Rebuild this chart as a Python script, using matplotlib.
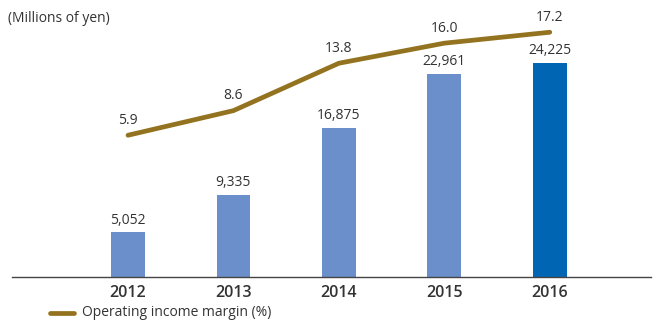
import numpy as np
import matplotlib.pyplot as plt

plt.rcParams['font.family'] = ['Open Sans', 'DejaVu Sans']

years = ['2012', '2013', '2014', '2015', '2016']
income = [5052, 9335, 16875, 22961, 24225]
margin = [5.9, 8.6, 13.8, 16.0, 17.2]

bar_colors = ['#6a8fcb'] * 4 + ['#0066b3']
line_color = '#93731f'
text_color = '#333333'

fig = plt.figure(figsize=(6.53, 3.21), dpi=100)
ax = fig.add_axes([12/653, 44/321, 639/653, 267/321])
x = np.arange(len(years))

ax.bar(x, income, width=0.32, color=bar_colors, zorder=2)
for xi, v in zip(x, income):
    ax.annotate(f'{v:,}', (xi, v), xytext=(0, 3.5), textcoords='offset points',
                ha='center', va='bottom', fontsize=10, color=text_color)

ax.set_xlim(-1.1, 4.96)
ax.set_ylim(0, 30237)
ax.set_xticks(x)
ax.set_xticklabels(years, fontsize=11.5, fontweight='semibold', color=text_color)
ax.tick_params(axis='x', length=0, pad=6)
ax.set_yticks([])
for s in ['top', 'right', 'left']:
    ax.spines[s].set_visible(False)
ax.spines['bottom'].set_color('#444444')
ax.spines['bottom'].set_linewidth(1.0)

ax2 = ax.twinx()
ax2.plot(x, margin, color=line_color, lw=3.4, solid_capstyle='round', zorder=3)
for xi, v in zip(x, margin):
    ax2.annotate(f'{v:.1f}', (xi, v), xytext=(0, 5.5), textcoords='offset points',
                 ha='center', va='bottom', fontsize=10, color=text_color)
ax2.set_ylim(-9.65, 19.64)
ax2.set_yticks([])
ax2.axis('off')

fig.text(8/653, 1 - 18/321, '(Millions of yen)', fontsize=10, color=text_color,
         ha='left', va='center')

fig.add_artist(plt.Line2D([50/653, 74/653], [1 - 313/321, 1 - 313/321],
                          color=line_color, lw=3.4, solid_capstyle='round'))
fig.text(82/653, 1 - 313/321, 'Operating income margin (%)', fontsize=10,
         color=text_color, ha='left', va='center')

fig.savefig('out.png', dpi=100)
